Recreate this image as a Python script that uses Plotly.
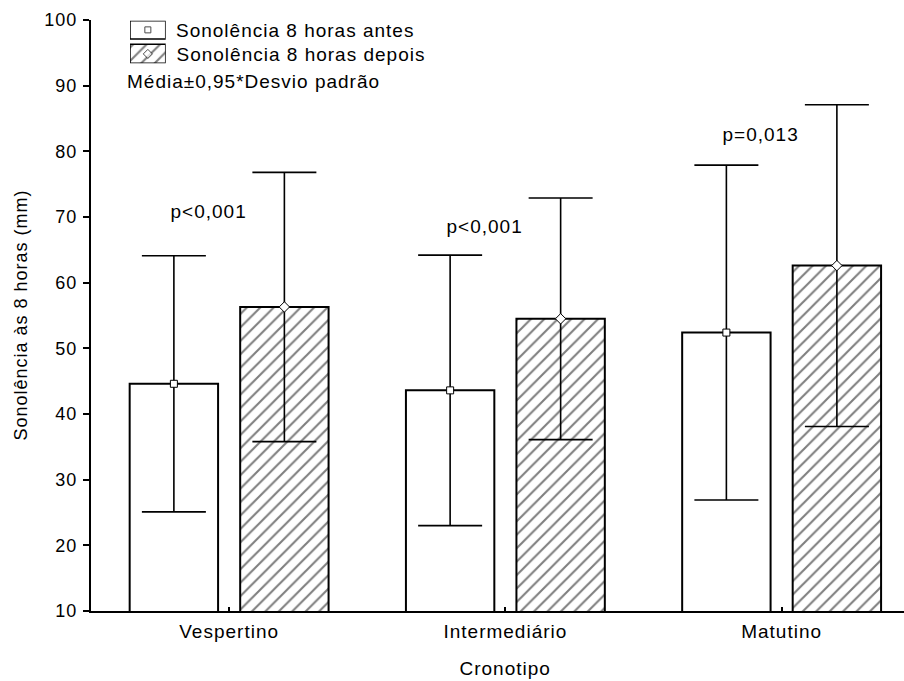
import plotly.graph_objects as go

# Chronotype groups and sleepiness scores (mean and 0.95*SD)
categories = ["Vespertino", "Intermediário", "Matutino"]
antes_mean = [44.6, 43.6, 52.4]
antes_err = [19.5, 20.6, 25.5]
depois_mean = [56.3, 54.5, 62.6]
depois_err = [20.5, 18.4, 24.5]
p_labels = ["p<0,001", "p<0,001", "p=0,013"]
y_ticks = [10, 20, 30, 40, 50, 60, 70, 80, 90, 100]

# layout constants
W, H = 904, 681
ML, MR, MT, MB = 91, 0, 20, 70
FONT = "Liberation Sans, Arial, sans-serif"
FS = 19
OFFSET = 0.2
BAR_W = 0.32
p_label_y = [70.8, 68.5, 82.6]
P_DX = -0.075
HATCH = dict(shape="/", fgcolor="black", bgcolor="white", size=9.5, solidity=0.22)

pos = list(range(len(categories)))
x_antes = [p - OFFSET for p in pos]
x_depois = [p + OFFSET for p in pos]

fig = go.Figure()

fig.add_trace(go.Bar(
    x=x_antes, y=antes_mean, width=BAR_W,
    marker=dict(color="white", line=dict(color="black", width=2)),
    showlegend=False,
))
fig.add_trace(go.Bar(
    x=x_depois, y=depois_mean, width=BAR_W,
    marker=dict(color="white", line=dict(color="black", width=2), pattern=HATCH),
    showlegend=False,
))

# means with error bars
fig.add_trace(go.Scatter(
    x=x_antes, y=antes_mean, mode="markers",
    marker=dict(symbol="square", size=7, color="white",
                line=dict(color="black", width=1)),
    error_y=dict(type="data", array=antes_err, color="black",
                 thickness=1.6, width=32),
    showlegend=False,
))
fig.add_trace(go.Scatter(
    x=x_depois, y=depois_mean, mode="markers",
    marker=dict(symbol="diamond", size=8, color="white",
                line=dict(color="black", width=1)),
    error_y=dict(type="data", array=depois_err, color="black",
                 thickness=1.6, width=32),
    showlegend=False,
))


def px_x(v):
    return (v - ML) / (W - ML - MR)


def px_y(v):
    return (H - MB - v) / (H - MT - MB)


# legend swatches on a small auxiliary axis
fig.add_trace(go.Bar(
    x=[0], y=[0.43], base=[0.57], width=1, xaxis="x2", yaxis="y2",
    marker=dict(color="white", line=dict(color="black", width=1.5)),
    cliponaxis=False, showlegend=False,
))
fig.add_trace(go.Bar(
    x=[0], y=[0.445], base=[0], width=1, xaxis="x2", yaxis="y2",
    marker=dict(color="white", line=dict(color="black", width=1.5), pattern=HATCH),
    cliponaxis=False, showlegend=False,
))
fig.add_trace(go.Scatter(
    x=[0, 0], y=[0.785, 0.22], xaxis="x2", yaxis="y2", mode="markers",
    marker=dict(symbol=["square", "diamond"], size=[6, 7], color="white",
                line=dict(color="black", width=1)),
    cliponaxis=False, showlegend=False,
))

annotations = []
for i, txt in enumerate(p_labels):
    annotations.append(dict(
        x=pos[i] + P_DX, y=p_label_y[i], xref="x", yref="y", text=txt,
        showarrow=False, font=dict(family=FONT, size=FS, color="black"),
        xanchor="center", yanchor="middle",
    ))

# legend text (centre x, centre y in pixels)
legend_rows = [
    ("Sonolência 8 horas antes", 295, 30),
    ("Sonolência 8 horas depois", 301, 55),
    ("Média±0,95*Desvio padrão", 253, 81),
]
for txt, lx, ly in legend_rows:
    annotations.append(dict(
        x=px_x(lx), y=px_y(ly), xref="paper", yref="paper", text=txt,
        showarrow=False, font=dict(family=FONT, size=FS, color="black"),
        xanchor="center", yanchor="middle",
    ))

# axis titles
annotations.append(dict(
    x=1, y=px_y(668), xref="x", yref="paper", text="Cronotipo",
    showarrow=False, font=dict(family=FONT, size=FS, color="black"),
    xanchor="center", yanchor="middle",
))
annotations.append(dict(
    x=0, y=0.5, xref="paper", yref="paper", xshift=-71,
    text="Sonolência às 8 horas (mm)", textangle=-90,
    showarrow=False, font=dict(family=FONT, size=18, color="black"),
    xanchor="center", yanchor="middle",
))

x_max = -0.5 + (W - ML - MR) / 276.25

fig.update_layout(
    width=W, height=H,
    margin=dict(l=ML, r=MR, t=MT, b=MB, pad=0),
    paper_bgcolor="white", plot_bgcolor="white",
    barmode="overlay",
    font=dict(family=FONT, size=FS, color="black"),
    annotations=annotations,
    xaxis=dict(
        range=[-0.5, x_max], tickmode="array", tickvals=pos, ticktext=categories,
        ticks="inside", ticklen=4, tickwidth=1.5, tickcolor="black",
        showline=True, linewidth=2, linecolor="black",
        showgrid=False, zeroline=False, ticklabelstandoff=2,
        tickfont=dict(family=FONT, size=FS, color="black"),
    ),
    yaxis=dict(
        range=[10, 100], tickmode="array", tickvals=y_ticks,
        ticks="outside", ticklen=6, tickwidth=1.5, tickcolor="black",
        showline=True, linewidth=2, linecolor="black",
        showgrid=False, zeroline=False, ticklabelstandoff=2,
        tickfont=dict(family=FONT, size=18, color="black"),
    ),
    xaxis2=dict(
        domain=[px_x(130), px_x(165.7)], range=[-0.5, 0.5], anchor="y2",
        visible=False, fixedrange=True,
    ),
    yaxis2=dict(
        domain=[px_y(63.3), px_y(20.7)], range=[0, 1], anchor="x2",
        visible=False, fixedrange=True,
    ),
)

# slightly open letter spacing for all chart text
spacing_js = (
    "var s=document.createElement('style');"
    "s.textContent='svg text{letter-spacing:1px}';"
    "document.head.appendChild(s);"
)

fig.write_html("out.html", post_script=spacing_js)
